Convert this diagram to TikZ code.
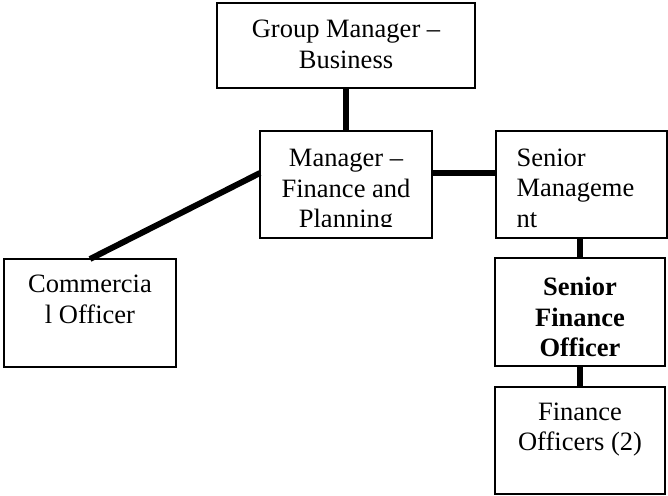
\documentclass[tikz,border=0pt]{standalone}
\usepackage{fontspec}
\setmainfont{Liberation Serif}
\usetikzlibrary{positioning}
\tikzset{
  unit/.style={draw,line width=1pt,outer sep=0pt,inner sep=0pt},
  txt/.style={inner sep=0pt,align=center,font=\fontsize{12}{13.8}\selectfont},
  link/.style={line width=2.7pt},
  every node/.style={font=\fontsize{12}{13.8}\selectfont}
}
\begin{document}
\begin{tikzpicture}[x=0.4528pt,y=-0.4528pt]
\useasboundingbox (0,0) rectangle (668,495);

% boxes of the chart
\node[unit,minimum width=116.8pt,minimum height=38.5pt] (gm) at (346,45.5) {};
\node[unit,minimum width=77.9pt,minimum height=48.4pt] (mfp) at (346,184.5) {};
\node[unit,minimum width=77.4pt,minimum height=48.4pt] (sm) at (581.5,184.5) {};
\node[unit,minimum width=77.9pt,minimum height=48.9pt] (co) at (90,313) {};
\node[unit,minimum width=77.0pt,minimum height=48.9pt] (sfo) at (580,312) {};
\node[unit,minimum width=77.0pt,minimum height=48.4pt] (fo) at (580,440.5) {};

% texts, set from the top of each box
\node[txt,below=7.7pt of gm.north] (gmt) {Group Manager --\\Business};
\begin{scope}
  % last line is cut off inside the box
  \clip (mfp.north west) rectangle (432,226);
  \node[txt,below=8.2pt of mfp.north] (mfpt) {Manager --\\Finance and\\Planning};
\end{scope}
\node[txt,align=left,below right=7.7pt and 9.1pt of sm.north west] (smt) {Senior\\Manageme\\nt};
\node[txt,below=7.2pt of co.north] (cot) {Commercia\\l Officer};
\node[txt,below=8.6pt of sfo.north] (sfot) {\textbf{Senior}\\\textbf{Finance}\\\textbf{Officer}};
\node[txt,below=6.8pt of fo.north] (fot) {Finance\\Officers (2)};

% connectors
\draw[link] (gm) -- (mfp);
\draw[link] ([yshift=5.2pt]mfp.east) -- ([yshift=5.2pt]sm.west);
\draw[link] ([yshift=5.2pt]mfp.west) -- (co.north);
\draw[link] (sm.south -| sfo.north) -- (sfo.north);
\draw[link] (sfo) -- (fo);
\end{tikzpicture}
\end{document}
